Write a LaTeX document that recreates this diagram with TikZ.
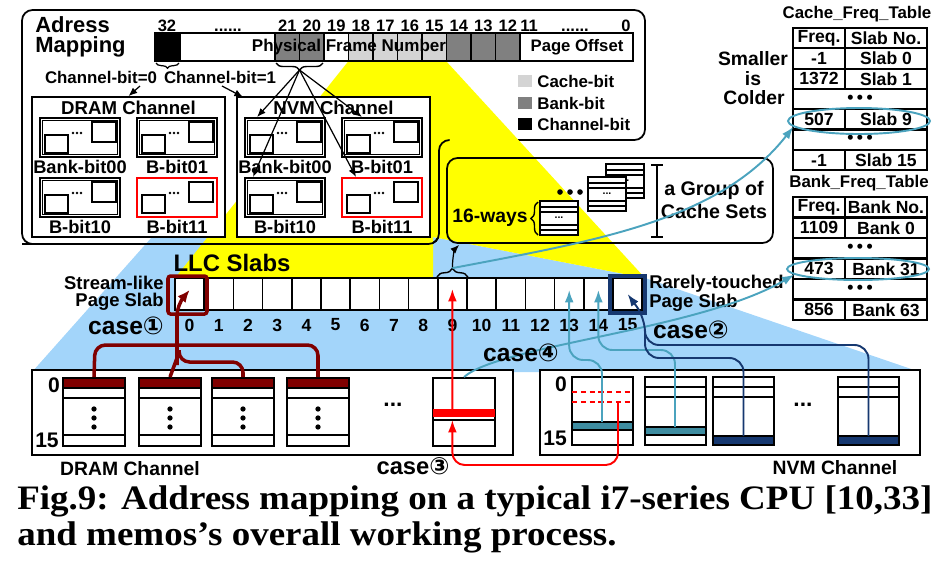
\documentclass[tikz,border=0pt]{standalone}
\usepackage{fontspec}
\setmainfont{Liberation Sans}
\newfontfamily\capfont{Liberation Serif}
\newfontfamily\circfont{DejaVu Sans}
\usepackage{tikz}
\usetikzlibrary{arrows.meta,positioning,calc,decorations.pathreplacing,shapes.geometric}

\definecolor{projblue}{RGB}{163,213,250}
\definecolor{projyellow}{RGB}{255,255,0}
\definecolor{streamred}{RGB}{128,0,0}
\definecolor{hotred}{RGB}{255,0,0}
\definecolor{coldteal}{RGB}{75,163,190}
\definecolor{tealband}{RGB}{62,140,160}
\definecolor{coldnavy}{RGB}{22,56,112}
\definecolor{cachegray}{RGB}{212,212,212}
\definecolor{bankgray}{RGB}{128,128,128}

\newcommand\pxl{0.02cm}
\newcommand\fsz[1]{\fontsize{#1}{#1}\selectfont\bfseries}
\newcommand\circnum[1]{{\circfont\bfseries #1}}

\begin{document}
\begin{tikzpicture}[x=0.02cm, y=-0.02cm,
  every node/.style={inner sep=0pt, font=\fsz{10}},
  outline/.style={draw=black, line width=1pt},
  chanbox/.style={outline, fill=white, minimum width=193*\pxl, minimum height=140*\pxl},
  bankbox/.style={line width=1.1pt, minimum width=80*\pxl, minimum height=39*\pxl},
  slabcell/.style={outline, fill=white, minimum width=29.2*\pxl, minimum height=32*\pxl},
  setbox/.style={draw=black, line width=1.1pt, fill=white, minimum width=62*\pxl, minimum height=68*\pxl},
  tcell/.style={draw=black, line width=1.2pt, fill=white},
  blkarrow/.style={-{Latex[length=5pt,width=4pt]}, line width=0.7pt},
  streamline/.style={streamred, line width=2pt, rounded corners=6pt},
  tealarrow/.style={coldteal, line width=1.1pt, -{Latex[length=7pt,width=5pt]}},
  hotarrow/.style={hotred, line width=1.1pt, -{Latex[length=7pt,width=5pt]}},
  coldarrow/.style={coldnavy, line width=1.1pt, rounded corners=8pt},
  capline/.style={anchor=base west, font={\capfont\fontsize{19.5}{19.5}\selectfont\bfseries}}
]
  \useasboundingbox (0,0) rectangle (950,566);

  % --- Projektionen (blau: Kanaele, gelb: Cache-Bits -> Slabs)
  \fill[projblue] (32,372) -- (152,237) -- (433,237) -- (645,278) -- (920,372) -- cycle;
  \draw[outline, rounded corners=6pt] (22,10) -- (645,10) -- (645,140) -- (439,140) -- (439,244) -- (22,244) -- cycle;
  \fill[projyellow] (348.5,61) -- (446,61) -- (645,278) -- (433,237) -- (433,278) -- (175,278) -- cycle;

  % --- Rahmen oben
  \draw[outline, rounded corners=6pt] (22,244) -- (439,244) -- (439,140) -- (449,140);
  \node[outline, rounded corners=6pt, minimum width=326*\pxl, minimum height=85*\pxl] (grpbox) at (610,200.5) {};

  \node[anchor=base west, font=\fsz{12.5}] (adr) at (35,32) {Adress};
  \node[anchor=base west, font=\fsz{12.5}] (map) at (35,52) {Mapping};

  % --- Adressbits
  \draw[outline] (155,33) rectangle (633,61);
  \draw[outline, fill=black] (155,33) rectangle (180,61);
  \foreach \bit/\shade in {21/bankgray, 20/bankgray, 19/white, 18/cachegray, 17/cachegray,
                           16/cachegray, 15/cachegray, 14/bankgray, 13/bankgray, 12/bankgray} {
    \draw[outline, fill=\shade] ({275+24.5*(21-\bit)},33) rectangle ++(24.5,28);
    \node[anchor=base, font=\fsz{9.4}] (bit\bit) at ({287.25+24.5*(21-\bit)},31) {\bit};
  }
  \node[anchor=base, font=\fsz{9.4}] (bit32) at (167,31) {32};
  \node[anchor=base, font=\fsz{9.4}] (hidots) at (228,31) {......};
  \node[anchor=base, font=\fsz{9.4}] (bit11) at (529,31) {11};
  \node[anchor=base, font=\fsz{9.4}] (lodots) at (575,31) {......};
  \node[anchor=base, font=\fsz{9.4}] (bit0) at (626,31) {0};
  \node[font=\fsz{9.7}] (pfn) at (349,47) {Physical Frame Number};
  \node[font=\fsz{9.5}] (poff) at (577,47) {Page Offset};

  \draw[decorate, decoration={brace, amplitude=3pt, mirror}, line width=0.7pt] (156,63) -- (179,63);
  \draw[decorate, decoration={brace, amplitude=4pt, mirror}, line width=0.8pt] (276,63) -- (323,63);
  \coordinate (bktip) at (299.5,70);

  \node[font=\fsz{9.6}] (chbit0) at (101,77) {Channel-bit=0};
  \node[font=\fsz{9.6}] (chbit1) at (220,77) {Channel-bit=1};
  \coordinate (ch0foot) at (140,86);
  \coordinate (ch1foot) at (222,86);

  % --- Kanaele mit Baenken
  \foreach \ox/\ch/\chtitle in {0/dram/DRAM Channel, 205/nvm/NVM Channel} {
    \node[chanbox] (\ch) at ({128.5+\ox},167) {};
    \node[font=\fsz{10.6}] (\ch-title) at ({128.5+\ox},108) {\chtitle};
    \foreach \bx/\bky/\bn/\blabel/\bcol/\binner in {40/118/00/Bank-bit00/black/black, 137/118/01/B-bit01/black/black,
                                                  40/178/10/B-bit10/black/black, 137/178/11/B-bit11/red/none} {
      \pgfmathsetmacro\X{\bx+\ox}
      \node[bankbox, draw=\bcol] (\ch-b\bn) at ({\X+40},{\bky+19.5}) {};
      \draw[draw=\binner, line width=0.5pt] ({\X+2.5},{\bky+2.5}) rectangle ++(75,34);
      \draw[line width=0.8pt] ({\X+5},{\bky+17}) rectangle ++(23,18);
      \draw[line width=0.8pt] ({\X+52},{\bky+4}) rectangle ++(24,20);
      \foreach \dd in {0,1,2} \fill ({\X+33+4*\dd},{\bky+15}) circle (0.8pt);
      \node[font=\fsz{10.4}] (\ch-l\bn) at ({\X+40},{\bky+49}) {\blabel};
    }
  }

  \draw[blkarrow] (ch0foot) -- (dram.north);
  \draw[blkarrow] (ch1foot) -- ($(nvm.north west)+(7,1)$);
  \draw[blkarrow] (bktip) -- ($(nvm-b00.north west)+(13,0)$);
  \draw[blkarrow] (bktip) -- ($(nvm-b10.north west)+(9,0)$);
  \draw[blkarrow] (bktip) -- ($(nvm-b01.north west)+(21,0)$);
  \draw[blkarrow] (bktip) -- ($(nvm-b11.north west)+(15,0)$);

  % --- Legende
  \foreach \yy/\shade/\txt/\nm in {81/cachegray/Cache-bit/lgcache, 103/bankgray/Bank-bit/lgbank, 124/black/Channel-bit/lgchan} {
    \fill[\shade] (518,{\yy-6}) rectangle ++(14,12);
    \node[anchor=west, font=\fsz{9.6}] (\nm) at (537,\yy) {\txt};
  }

  \node[font=\fsz{11}] (smaller) at (753,59) {Smaller};
  \node[font=\fsz{11}] (is) at (753,79) {is};
  \node[font=\fsz{11}] (colder) at (754,98) {Colder};

  % --- Frequenztabellen
  \node[font=\fsz{9.6}] (ctitle) at (857,14) {Cache\_Freq\_Table};
  \foreach \rw/\fq/\nmtxt in {0/Freq./Slab No., 1/-1/Slab 0, 2/1372/Slab 1, 4/507/Slab 9, 6/-1/Slab 15} {
    \draw[tcell] (793,{28+20.3*\rw}) rectangle (845,{48.3+20.3*\rw});
    \draw[tcell] (845,{28+20.3*\rw}) rectangle (927,{48.3+20.3*\rw});
    \node (cfreq\rw) at (819,{38.15+20.3*\rw}) {\fq};
    \node (cslab\rw) at (886,{38.15+20.3*\rw}) {\nmtxt};
  }
  \foreach \rw in {3,5} {
    \draw[tcell] (793,{28+20.3*\rw}) rectangle (927,{48.3+20.3*\rw});
    \node (cdots\rw) at (860,{38.15+20.3*\rw}) {\textbullet\hspace{2pt}\textbullet\hspace{2pt}\textbullet};
  }

  \node[font=\fsz{9.6}] (btitle) at (859,183) {Bank\_Freq\_Table};
  \foreach \rw/\fq/\nmtxt in {0/Freq./Bank No., 1/1109/Bank 0, 3/473/Bank 31, 5/856/Bank 63} {
    \draw[tcell] (793,{197+20.5*\rw}) rectangle (845,{217.5+20.5*\rw});
    \draw[tcell] (845,{197+20.5*\rw}) rectangle (927,{217.5+20.5*\rw});
    \node (bfreq\rw) at (819,{207.25+20.5*\rw}) {\fq};
    \node (bbank\rw) at (886,{207.25+20.5*\rw}) {\nmtxt};
  }
  \foreach \rw in {2,4} {
    \draw[tcell] (793,{197+20.5*\rw}) rectangle (927,{217.5+20.5*\rw});
    \node (bdots\rw) at (860,{207.25+20.5*\rw}) {\textbullet\hspace{2pt}\textbullet\hspace{2pt}\textbullet};
  }

  \node[ellipse, draw=coldteal, line width=1.1pt, minimum width=142*\pxl, minimum height=26*\pxl] (slab9ring) at (859,121) {};
  \node[ellipse, draw=coldteal, line width=1.1pt, minimum width=142*\pxl, minimum height=22*\pxl] (bank31ring) at (858,269) {};

  % --- Gruppe von Cache-Sets
  \node[anchor=east, font=\fsz{11}] (ways) at (528,218) {16-ways};
  \draw[decorate, decoration={brace, amplitude=4pt}, line width=0.8pt] (538,235) -- (538,202);
  \foreach \sx/\sy/\nm in {606/164/setc, 588/177/setb, 540/201/seta} {
    \draw[line width=1.2pt, fill=white] (\sx,\sy) rectangle ++(38,34);
    \foreach \ly in {6,11,24,29} \draw[line width=0.8pt] (\sx,{\sy+\ly}) -- ++(38,0);
    \node[font=\fsz{6}] (\nm) at ({\sx+19},{\sy+16.5}) {...};
  }
  \foreach \dd in {0,1,2} \fill ({560+10*\dd},192) circle (1.6pt);
  \draw[line width=1.2pt] (657,165) -- (657,237) (651,165) -- (663,165) (651,237) -- (663,237);
  \node[font=\fsz{11.2}] (grp1) at (714,190) {a Group of};
  \node[font=\fsz{11.2}] (grp2) at (714,211) {Cache Sets};

  % --- LLC Slabs
  \foreach \i in {0,...,15} {
    \node[slabcell] (s\i) at ({189.6+29.2*\i},294) {};
    \node[font=\fsz{10}] (sn\i) at ({189.6+29.2*\i},325) {\i};
  }
  \node[font=\fsz{13.6}] (llc) at (232,263) {LLC Slabs};
  \node[anchor=east, font=\fsz{10.5}] (stream1) at (164,283) {Stream-like};
  \node[anchor=east, font=\fsz{10.5}] (stream2) at (164,302) {Page Slab};
  \node[anchor=west, font=\fsz{10.5}] (rare1) at (649,284) {Rarely-touched};
  \node[anchor=west, font=\fsz{10.5}] (rare2) at (649,303) {Page Slab};
  \draw[streamred, line width=2pt, rounded corners=1.5pt] (168,276) rectangle (207,314);
  \draw[coldnavy, line width=1.8pt] (610,276) rectangle (645,313);

  \draw[decorate, decoration={brace, amplitude=5pt}, line width=0.8pt] (s9.north west) -- (s9.north east);
  \coordinate (s9brace) at ($(s9.north)+(0,-9)$);
  \draw[blkarrow] (s9brace) .. controls +(0,-12) and +(-4,4) .. ($(grpbox.south west)+(13,1)$);
  \draw[tealarrow] (s9brace) .. controls (600,240) and (720,220) .. (slab9ring.185);

  % --- Kanaele unten
  \node[outline, fill=white, minimum width=481*\pxl, minimum height=85*\pxl] (dramch) at (272.5,412.5) {};
  \node[outline, fill=white, minimum width=380*\pxl, minimum height=85*\pxl] (nvmch) at (730,412.5) {};

  \foreach \k/\sx in {1/63, 2/139, 3/212, 4/287} {
    \node[setbox] (dset\k) at ({\sx+31},412) {};
    \fill[streamred] (\sx,378) rectangle ++(62,10);
    \draw[line width=1.1pt] (\sx,378) rectangle ++(62,68);
    \draw[line width=0.9pt] (\sx,388) -- ++(62,0) (\sx,398) -- ++(62,0) (\sx,435) -- ++(62,0);
    \foreach \dy in {409,418,427} \fill ({\sx+31},\dy) circle (1.5pt);
  }
  \node[setbox] (dset5) at (464,412) {};
  \fill[hotred] (433,409) rectangle ++(62,8);
  \draw[line width=0.9pt] (433,420) -- ++(62,0);

  \foreach \k/\sx in {1/572, 2/645, 3/713, 4/838} {
    \node[setbox, minimum width=61*\pxl] (nset\k) at ({\sx+30.5},411) {};
  }
  \draw[hotred, line width=1.1pt, dash pattern=on 3pt off 2pt] (572,392) -- ++(61,0) (572,402) -- ++(61,0);
  \draw[fill=tealband, line width=0.9pt] (572,422) rectangle ++(61,8);
  \draw[line width=0.9pt] (645,387) -- ++(61,0) (645,397) -- ++(61,0);
  \draw[fill=tealband, line width=0.9pt] (645,427) rectangle ++(61,8);
  \foreach \sx in {713, 838} {
    \draw[line width=0.9pt] (\sx,387) -- ++(61,0) (\sx,397) -- ++(61,0);
    \draw[fill=coldnavy, line width=0.9pt] (\sx,436) rectangle ++(61,9);
  }

  \node[font=\fsz{12}] (dzero) at (54,385) {0};
  \node[font=\fsz{12}] (dlast) at (47,440) {15};
  \node[font=\fsz{12}] (nzero) at (561,384) {0};
  \node[font=\fsz{12}] (nlast) at (555,438) {15};
  \node[font=\fsz{13}] (ddots) at (393,405) {...};
  \node[font=\fsz{13}] (ndots) at (803,405) {...};
  \node[font=\fsz{11}] (dramlbl) at (130,469) {DRAM Channel};
  \node[font=\fsz{11}] (nvmlbl) at (835,468) {NVM Channel};

  % --- Faelle
  \coordinate (trunk) at (177,345);
  \draw[streamline] (dset1.north) -- (95,345) -- (trunk);
  \draw[streamline] (dset4.north) -- (318,345) -- (trunk);
  \draw[streamline] (dset2.north) -- (177,358);
  \draw[streamline] (dset3.north) -- (243,362) -- (179,362) -- (179,350);
  \draw[streamline, -{Latex[length=7pt,width=6pt]}] (177,365) -- (177,305) -- ($(s0.center)+(0,-4)$);

  \coordinate (hotrow) at (452.4,409);
  \coordinate (dashrow) at (618,402);
  \draw[hotarrow] (hotrow) -- ($(s9.center)+(0,-5)$);
  \draw[hotarrow, rounded corners=7pt] (dashrow) -- (618,465) -- (452.4,465) -- (452.4,420);

  \draw[tealarrow, rounded corners=8pt] (602,422) -- (602,360) -- (569.2,360) -- ($(s13.center)+(0,-4)$);
  \draw[tealarrow, rounded corners=8pt] (675,427) -- (675,350) -- (598.4,350) -- ($(s14.center)+(0,-4)$);
  \draw[tealarrow] (dset5.north) .. controls (500,345) and (700,330) .. (bank31ring.185);

  \draw[coldarrow] (743.5,436) -- (743.5,358) -- (645,358) -- (645,330);
  \draw[coldarrow, -{Latex[length=7pt,width=5pt]}] (868.5,436) -- (868.5,345) -- (645,345) -- (645,318) -- (s15.center);

  \node[font=\fsz{14}] (case1) at (126,326) {case\circnum{①}};
  \node[font=\fsz{14}] (case2) at (691,330) {case\circnum{②}};
  \node[font=\fsz{14}] (case4) at (521,353) {case\circnum{④}};
  \node[font=\fsz{13.5}] (case3) at (413,466) {case\circnum{③}};

  % --- Bildunterschrift
  \node[capline] (cap1) at (17,509) {\scalebox{1.08}[1]{Fig.9: Address mapping on a typical i7-series CPU [10,33]}};
  \node[capline] (cap2) at (17,545) {\scalebox{1.08}[1]{and memos’s overall working process.}};
\end{tikzpicture}
\end{document}
